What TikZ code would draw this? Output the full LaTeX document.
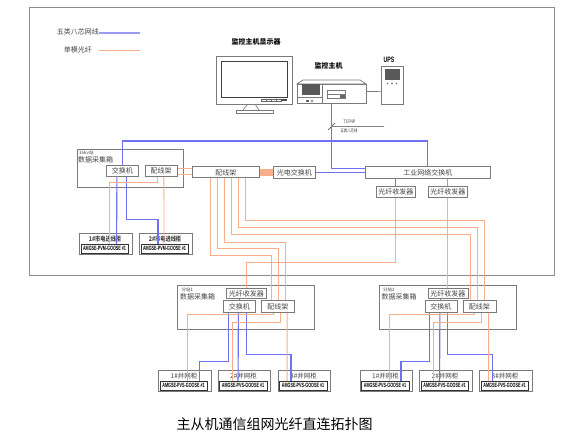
\documentclass[tikz,border=0pt]{standalone}
\usepackage{fontspec}
\setmainfont{Noto Sans CJK SC}
\newfontfamily\lat{Liberation Sans}
\definecolor{netb}{HTML}{7070F2}
\definecolor{fibo}{HTML}{F8AE8A}
\definecolor{edgeg}{HTML}{7A7A7A}
\definecolor{txtg}{HTML}{444444}
\newcommand{\bx}[6][box]{\node[#1,anchor=north west,minimum width={(#5-#3)*1pt},minimum height={(#6-#4)*1pt}] (#2) at (#3,#4) {};}
\newcommand{\gs}[1]{\scalebox{0.6}[1]{\lat\bfseries #1}}
\newcommand{\stripes}[4]{\fill[black!25] (#1,#2) rectangle (#3,#4);
 \foreach \vx in {#1,...,#3} {\draw[black!65,line width=0.4pt] (\vx+0.4,#2) -- (\vx+0.4,#4);}}
\tikzset{
 box/.style={draw=edgeg,line width=0.8pt,fill=white,inner sep=0pt,text=txtg,font=\fontsize{7}{8}\selectfont},
 frame/.style={draw=edgeg,line width=0.7pt,inner sep=0pt},
 lbl/.style={inner sep=0pt,text=txtg,font=\fontsize{7}{8}\selectfont},
 sml/.style={inner sep=0pt,text=txtg,font=\fontsize{4.5}{5}\selectfont},
 cabt/.style={inner sep=0pt,text=txtg,font=\fontsize{6.5}{7}\selectfont},
 ttl/.style={inner sep=0pt,text=black,font=\fontsize{7}{8}\selectfont\bfseries},
 blk/.style={inner sep=0pt,draw=black!80,line width=0.6pt,fill=white,text=black,font=\fontsize{6.2}{7}\selectfont},
 cab/.style={draw=edgeg,line width=0.9pt,inner sep=0pt},
 net/.style={draw=netb,line width=1.15pt},
 fib/.style={draw=fibo,line width=0.9pt},
 dev/.style={draw=edgeg,line width=0.7pt,fill=white,inner sep=0pt}
}
\newcommand{\cabinet}[6]{% name x y text gooselabel textstyle
 \bx[cab]{#1}{#2}{#3}{#2+52.5}{#3+21}
 \node[#6,anchor=center] (#1t) at (#2+26,#3+6) {#4};
 \node[blk,anchor=north west,minimum width=47.5pt,minimum height=9pt] (#1i) at (#2+1.5,#3+11) {\gs{#5}};
}
\newcommand{\station}[2]{%
\begin{scope}[xshift=#1pt]
 \bx[frame]{st#2}{177}{285}{314}{329}
 \node[sml,anchor=west] (st#2a) at (181.5,289.5) {分站#2};
 \node[lbl,anchor=west] (st#2b) at (180,296.5) {数据采集箱};
 \bx{tr#2}{226}{288}{266}{298}
 \node[lbl] (tr#2x) at (tr#2) {光纤收发器};
 \bx{sw#2}{223}{300}{255}{312}
 \node[lbl] (sw#2x) at (sw#2) {交换机};
 \bx{pd#2}{261}{300}{294}{312}
 \node[lbl] (pd#2x) at (pd#2) {配线架};
 \cabinet{c#2a}{158}{370}{1\#并网柜}{AMGSE-PVS-GOOSE \#1}{cabt}
 \cabinet{c#2b}{217.5}{370}{2\#并网柜}{AMGSE-PVS-GOOSE \#1}{cabt}
 \cabinet{c#2c}{277.5}{370}{3\#并网柜}{AMGSE-PVS-GOOSE \#1}{cabt}
 \draw[net] (sw#2.north) -- (sw#2.north |- tr#2.south);
 \draw[net] ([xshift=-11pt]sw#2.south) -- ++(0,49) -| ([xshift=16pt]c#2ai.north);
 \draw[net] ([xshift=-1pt]sw#2.south) -- ([xshift=-5pt]c#2bi.north);
 \draw[net] ([xshift=7pt]sw#2.south) -- ++(0,42) -| ([xshift=-12pt]c#2ci.north);
 \draw[fib] ([xshift=-4.5pt]pd#2.south) -- ++(0,2) -| ([xshift=4pt]c#2ai.north);
 \draw[fib] ([xshift=2.5pt]pd#2.south) -- ++(0,10) -| ([xshift=-11pt]c#2bi.north);
 \draw[fib] ([xshift=9.2pt]pd#2.south) -- ([xshift=-16pt]c#2ci.north);
\end{scope}}
\begin{document}
\begin{tikzpicture}[x=1pt,y=-1pt]
\useasboundingbox (0,0) rectangle (577,446);
\fill[white] (0,0) rectangle (577,446);
% outer frame
\bx[draw=black!45,line width=0.9pt,inner sep=0pt]{outer}{28.5}{7}{554}{274.5}
% legend
\node[lbl,anchor=east] (lg1) at (99,32) {五类八芯网线};
\coordinate (lg1e) at (140,33);
\draw[net,draw=netb!70,line width=1.3pt] (lg1.east |- lg1e) -- (lg1e);
\node[lbl,anchor=east] (lg2) at (92,50) {单模光纤};
\coordinate (lg2a) at (99,50.5);
\coordinate (lg2e) at (140,50.5);
\draw[fib] (lg2a) -- (lg2e);
% monitor
\node[ttl] (mont) at (256,42) {监控主机显示器};
\bx[dev]{mon}{216}{56}{292}{104}
\bx[draw=black!75,line width=0.9pt,fill=white,inner sep=0pt]{scr}{221}{61}{287}{97}
\draw[black!60,line width=0.5pt] (261,98.8) rectangle (281,101);
\fill[black!70] (281,99) rectangle (287,101);
\draw[black!60,line width=0.4pt] (266,99) -- (266,101) (271,99) -- (271,101) (276,99) -- (276,101);
\draw[edgeg,line width=0.6pt] (248,104) -- (243,110) (255,104) -- (259,110);
\bx[dev]{monb}{235.5}{110}{273}{113}
% host
\node[ttl] (hostt) at (328.5,66) {监控主机};
\draw[edgeg,line width=0.7pt,fill=white] (297,84) -- (303,80) -- (360,80) -- (366,84) -- cycle;
\bx[dev]{host}{297}{84}{366}{103.5}
\stripes{302}{84}{319}{95}
\draw[edgeg,line width=0.5pt] (297,97) -- (322,97) (322,84) -- (322,103.5);
\draw[edgeg,line width=0.5pt] (327,90) rectangle (345,98) (327,94) -- (345,94);
\fill[black!60] (340,95) rectangle (345,98);
\fill[black!60] (306,100) rectangle (309,102);
\draw[black!60,line width=0.4pt] (312,101) circle (1.2);
% UPS
\node[ttl,font=\fontsize{6.5}{7}\selectfont\lat\bfseries] (upst) at (389,59.5) {\scalebox{0.8}[1.2]{UPS}};
\bx[dev]{ups}{381}{66}{402.5}{104}
\stripes{385}{69}{399}{80}
\fill[black!60] (387.5,83.5) circle (0.8) (392,83.5) circle (0.8) (396.5,83.5) circle (0.8);
\draw[draw=edgeg,line width=0.7pt] ([yshift=2.5pt]host.east) -- ([yshift=-6pt]ups.west);
% TCP
\coordinate (tcpa) at (331.5,126.5);
\coordinate (tcpb) at (384,126.5);
\coordinate (tick1) at (328,130);
\coordinate (tick2) at (335,123);
\draw[black!75,line width=0.5pt] (tcpa) -- (tcpb) (tick1) -- (tick2);
\node[sml,text=black!80] (tcpt) at (349.5,122) {\scalebox{0.8}[1.1]{\lat TCP/IP}};
\node[sml,text=black!80] (tcpu) at (349,131) {\scalebox{0.75}[1]{五类八芯线}};
% 35kv station
\bx[frame]{st0}{77}{149.5}{183}{187}
\node[sml,anchor=west] (st0a) at (79,152.5) {35kv站};
\node[lbl,anchor=west] (st0b) at (78,160) {数据采集箱};
\bx{sw0}{106}{165}{138}{176.5}
\node[lbl] (sw0x) at (sw0) {交换机};
\bx{pd0}{144.5}{165}{177}{176}
\node[lbl] (pd0x) at (pd0) {配线架};
\bx{pd}{192}{166.5}{259}{177.5}
\node[lbl] (pdx) at (pd) {配线架};
\bx{gd}{273}{166}{315}{178}
\node[lbl] (gdx) at (gd) {光电交换机};
\bx{ind}{365}{166}{490}{178}
\node[lbl] (indx) at (ind) {工业网络交换机};
\bx{q1}{376}{186}{415}{197}
\node[lbl] (q1x) at (q1) {光纤收发器};
\bx{q2}{428}{186}{467}{197}
\node[lbl] (q2x) at (q2) {光纤收发器};
% mains cabinets
\cabinet{e1}{79}{233}{\scalebox{0.8}[1]{\bfseries 1\#市电进线柜}}{AMGSE-PVM-GOOSE \#1}{cabt}
\cabinet{e2}{139}{233}{\scalebox{0.8}[1]{\bfseries 2\#市电进线柜}}{AMGSE-PVM-GOOSE \#1}{cabt}
% stations
\station{0}{1}
\station{201.5}{2}
% network lines
\draw[net] (sw0.north) -- ++(0,-24) -| (ind.north);
\draw[net] (host.south) |- ([yshift=4pt]ind.west);
\draw[net] (gd.east) -- (ind.west);
\draw[net] (q1.north) -- (q1.north |- ind.south);
\draw[net,draw=netb!70] (q2.north) -- (q2.north |- ind.south);
\draw[net] ([xshift=-5.5pt]sw0.south) -- ([xshift=12pt]e1i.north);
\draw[net] ([xshift=4pt]sw0.south) -- ++(0,42.5) -| ([xshift=-6.5pt]e2i.north);
% fibre
\draw[fib] ([yshift=2.5pt]pd0.east) -- ([yshift=4pt]pd.west);
\draw[fib] ([yshift=-3.5pt]pd0.east) -- ([yshift=-2pt]pd.west);
\draw[draw=fibo,line width=7pt] (pd.east) -- (gd.west);
\draw[fib] ([xshift=-3.75pt]pd0.south) -- ++(0,6) -| ([xshift=5pt]e1i.north);
\draw[fib] ([xshift=2.75pt]pd0.south) -- ([xshift=-0.5pt]e2i.north);
\draw[fib] ([xshift=-15.5pt]pd.south) -- ++(0,77.5) -| ([xshift=-6.5pt]pd1.north);
\draw[fib] ([xshift=-8.5pt]pd.south) -- ++(0,70.5) -| ([xshift=0.5pt]pd1.north);
\draw[fib] ([xshift=-1.5pt]pd.south) -- ++(0,64.5) -| ([xshift=7.5pt]pd1.north);
\draw[fib] ([xshift=5.5pt]pd.south) -- ++(0,56.5) -| ([xshift=-9pt]pd2.north);
\draw[fib] ([xshift=12.5pt]pd.south) -- ++(0,49.5) -| ([xshift=-2pt]pd2.north);
\draw[fib] ([xshift=19.5pt]pd.south) -- ++(0,42.5) -| ([xshift=5pt]pd2.north);
\draw[fib] (q1.south) -- ++(0,65) -| (tr1.north);
\draw[fib] (q2.south) -- (tr2.north);
% caption
\node[inner sep=0pt,text=black,font=\fontsize{14}{16}\selectfont] (cap) at (274.5,424.5) {主从机通信组网光纤直连拓扑图};
\end{tikzpicture}
\end{document}
